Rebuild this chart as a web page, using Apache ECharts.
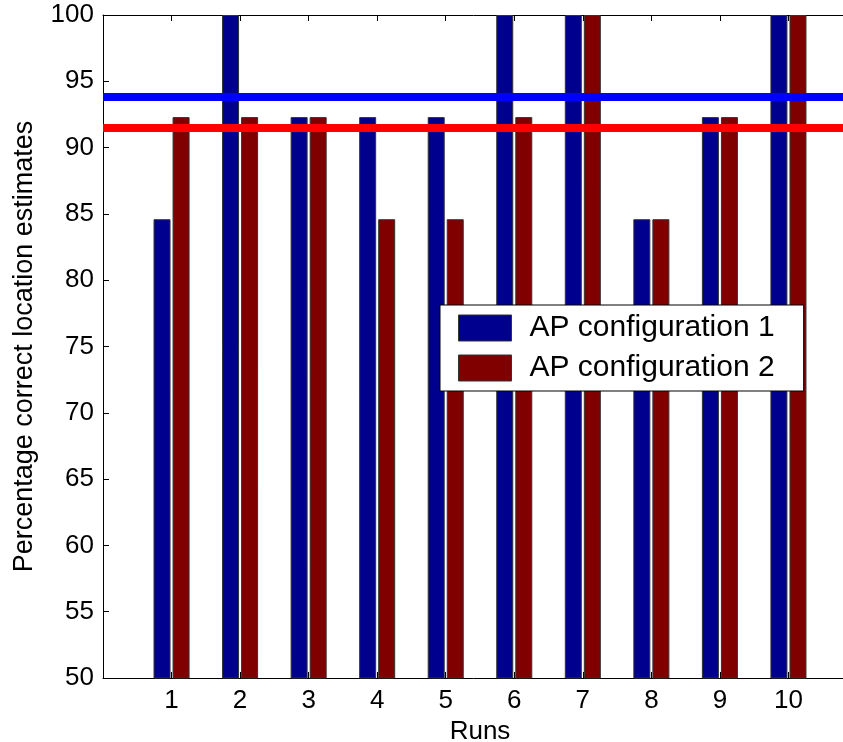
<!DOCTYPE html>
<html>
<head>
<meta charset="utf-8">
<script src="https://cdn.jsdelivr.net/npm/echarts@6/dist/echarts.min.js"></script>
<style>
html,body{margin:0;padding:0;background:#fff;}
#chart{width:843px;height:742px;}
</style>
</head>
<body>
<div id="chart"></div>
<script>
var runs = ['1','2','3','4','5','6','7','8','9','10'];
var config1 = [84.6, 100, 92.3, 92.3, 92.3, 100, 100, 84.6, 92.3, 100];
var config2 = [92.3, 92.3, 92.3, 84.6, 84.6, 92.3, 100, 84.6, 92.3, 100];
var meanValues = [93.84, 91.53];
var seriesNames = ['AP configuration 1', 'AP configuration 2'];
var yTicks = [50, 55, 60, 65, 70, 75, 80, 85, 90, 95, 100];

var FONT = 'Liberation Sans, Arial, sans-serif';
var cats = [''].concat(runs).concat(['']);
function pad(arr){ return [null].concat(arr).concat([null]); }

var chart = echarts.init(document.getElementById('chart'));
var axisLine = {show: true, lineStyle: {color: '#000', width: 1}};
var tickIn = {show: true, inside: true, length: 6, lineStyle: {color: '#000', width: 1}};
var option = {
  animation: false,
  backgroundColor: '#fff',
  grid: {left: 103, top: 15, right: -14, bottom: 64, containLabel: false, outerBoundsMode: 'none'},
  legend: {
    orient: 'vertical',
    left: 440, top: 305,
    data: seriesNames,
    icon: 'rect',
    itemWidth: 53, itemHeight: 26, itemGap: 10,
    padding: [8, 29, 8, 18],
    backgroundColor: '#fff',
    borderColor: '#000', borderWidth: 1,
    textStyle: {fontFamily: FONT, fontSize: 30, color: '#000', lineHeight: 26, padding: [0, 0, 0, 13]},
    itemStyle: {borderColor: '#333', borderWidth: 1}
  },
  xAxis: [{
    type: 'category', data: cats, boundaryGap: false, position: 'bottom',
    name: 'Runs', nameLocation: 'middle', nameGap: 38,
    nameTextStyle: {fontFamily: FONT, fontSize: 26, color: '#000'},
    axisLine: axisLine, axisTick: Object.assign({}, tickIn, {alignWithLabel: true}),
    axisLabel: {fontFamily: FONT, fontSize: 26, color: '#000', margin: 10, interval: 0},
    splitLine: {show: false}
  }, {
    type: 'category', data: cats, boundaryGap: false, position: 'top',
    axisLine: axisLine, axisTick: tickIn, axisLabel: {show: false}, splitLine: {show: false}
  }],
  yAxis: [{
    type: 'value', min: 50, max: 100, interval: 5, position: 'left',
    name: 'Percentage correct location estimates', nameLocation: 'middle', nameGap: 65,
    nameTextStyle: {fontFamily: FONT, fontSize: 27, color: '#000'},
    axisLine: axisLine, axisTick: tickIn,
    axisLabel: {fontFamily: FONT, fontSize: 26, color: '#000', margin: 9,
      customValues: yTicks},
    splitLine: {show: false}
  }, {
    type: 'value', min: 50, max: 100, interval: 5, position: 'right',
    axisLine: axisLine, axisTick: tickIn, axisLabel: {show: false}, splitLine: {show: false}
  }],
  series: [{
    name: seriesNames[0], type: 'bar', data: pad(config1),
    barWidth: 17, barGap: '12%',
    itemStyle: {color: '#00008F', borderColor: '#333', borderWidth: 1}
  }, {
    name: seriesNames[1], type: 'bar', data: pad(config2),
    barWidth: 17, barGap: '12%',
    itemStyle: {color: '#800000', borderColor: '#333', borderWidth: 1}
  }, {
    name: 'means', type: 'line', data: [], z: 10,
    markLine: {
      silent: true, symbol: ['none', 'none'], label: {show: false},
      data: [
        {yAxis: meanValues[0], lineStyle: {color: '#0000FF', width: 8, type: 'solid'}},
        {yAxis: meanValues[1], lineStyle: {color: '#FF0000', width: 8, type: 'solid'}}
      ]
    }
  }]
};
chart.setOption(option);
</script>
</body>
</html>
